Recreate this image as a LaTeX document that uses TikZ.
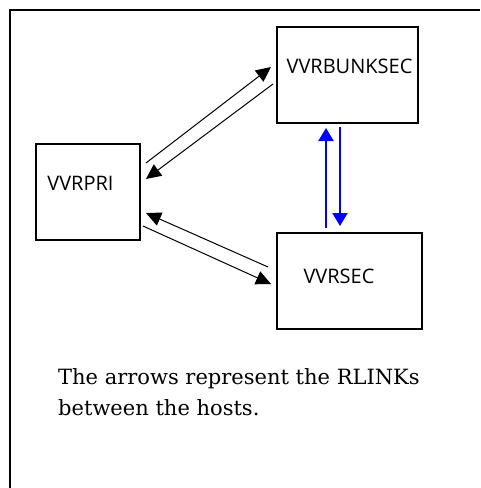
\documentclass[tikz,border=0pt]{standalone}
\usepackage{fontspec}
\setmainfont{DejaVu Serif}
\newfontfamily\labelfont{Open Sans}
\usetikzlibrary{arrows.meta}
\tikzset{
  hostbox/.style={draw, line width=1.4pt, inner sep=0pt},
  hostlabel/.style={font=\labelfont\fontsize{20}{23}\selectfont, inner sep=0pt, anchor=center},
  link/.style={line width=1pt, -{Triangle[length=15pt,width=14pt]}},
  bluelink/.style={draw=blue, line width=2pt, -{Triangle[length=13pt,width=15pt]}, blue},
  caption/.style={font=\fontsize{21}{31}\selectfont, align=left, inner sep=0pt, anchor=base west}
}
\begin{document}
\begin{tikzpicture}[x=1pt,y=-1pt]
\useasboundingbox (0,0) rectangle (480,488);
% frame
\draw[line width=1.5pt] (10,488) -- (10,10) -- (480,10);
% boxes
\node[hostbox, minimum width=141pt, minimum height=96pt] (bunk) at (347.5,75) {};
\node[hostbox, minimum width=104pt, minimum height=96pt] (pri) at (88,192) {};
\node[hostbox, minimum width=145pt, minimum height=96pt] (sec) at (349.5,281) {};
% labels
\node[hostlabel] (bunkt) at (349.5,66) {VVRBUNKSEC};
\node[hostlabel] (prit) at (80.5,183) {VVRPRI};
\node[hostlabel] (sect) at (339,276) {VVRSEC};
% connector end points
\coordinate (a1) at (146,163); \coordinate (a2) at (271,67);
\coordinate (b1) at (273,84);  \coordinate (b2) at (146,179);
\coordinate (c1) at (268,267); \coordinate (c2) at (146,213);
\coordinate (d1) at (143,226); \coordinate (d2) at (271,284);
\coordinate (e1) at (326,228); \coordinate (e2) at (326,128);
\coordinate (f1) at (340,127); \coordinate (f2) at (340,226);
\draw[link] (a1) -- (a2);
\draw[link] (b1) -- (b2);
\draw[link] (c1) -- (c2);
\draw[link] (d1) -- (d2);
\draw[bluelink] (e1) -- (e2);
\draw[bluelink] (f1) -- (f2);
% caption
\node[caption] (cap) at (58,415) {The arrows represent the RLINKs\\between the hosts.};
\end{tikzpicture}
\end{document}
